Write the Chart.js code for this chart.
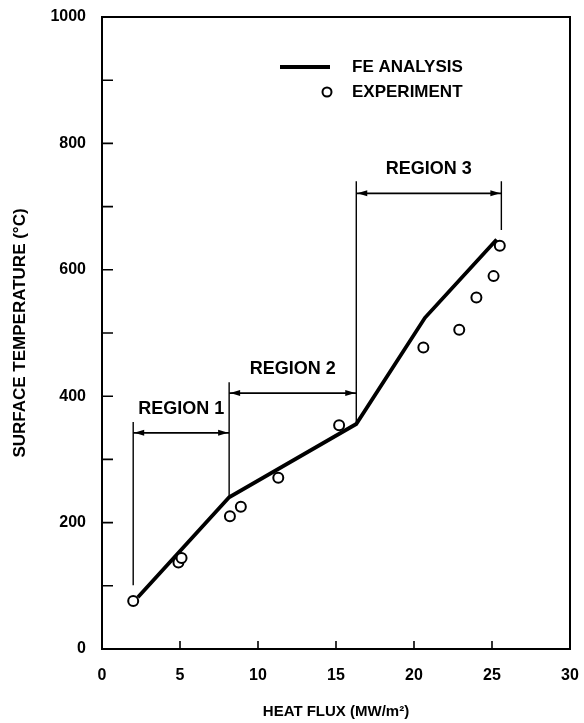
<!DOCTYPE html>
<html>
<head>
<meta charset="utf-8">
<script src="https://cdn.jsdelivr.net/npm/chart.js@4.4.1/dist/chart.umd.min.js"></script>
<style>
  html, body { margin: 0; padding: 0; background: #fff; }
  canvas { display: block; }
</style>
</head>
<body>
<canvas id="fluxchart" width="584" height="723"></canvas>
<script>
// FE analysis curve (heat flux MW/m2 -> surface temperature C)
const feFlux = [2.3, 8.15, 16.3, 20.7, 25.3];
const feTemp = [82, 240, 356, 524, 648];

// experiment points
const expFlux = [2.0, 4.9, 5.1, 8.2, 8.9, 11.3, 15.2, 20.6, 22.9, 24.0, 25.1, 25.5];
const expTemp = [76, 137, 144, 210, 225, 271, 354, 477, 505, 556, 590, 638];

// region annotations
const regionLabels = ['REGION 1', 'REGION 2', 'REGION 3'];
const regionFrom = [2.0, 8.15, 16.3];
const regionTo = [8.15, 16.3, 25.6];
const regionArrowTemp = [342, 405, 721];

// vertical boundary lines of the regions
const boundFlux = [2.0, 8.15, 16.3, 25.6];
const boundTop = [359, 422, 740, 740];
const boundBottom = [101, 240, 356, 663];

const fontFam = '"Liberation Sans", Arial, sans-serif';

function arrowHead(ctx, tipX, y, dir) {
    ctx.beginPath();
    ctx.moveTo(tipX, y);
    ctx.lineTo(tipX - dir * 10, y - 3);
    ctx.lineTo(tipX - dir * 10, y + 3);
    ctx.closePath();
    ctx.fill();
}

const overlay = {
    id: 'overlay',
    afterDraw(chart) {
        const ctx = chart.ctx;
        const a = chart.chartArea;
        const x = chart.scales.x;
        const y = chart.scales.y;
        ctx.save();
        ctx.strokeStyle = '#000';
        ctx.fillStyle = '#000';

        // frame
        ctx.lineWidth = 2;
        ctx.strokeRect(a.left, a.top, a.right - a.left, a.bottom - a.top);

        // inward tick marks
        ctx.lineWidth = 1.6;
        ctx.beginPath();
        x.ticks.forEach(t => {
            if (t.value > x.min && t.value < x.max) {
                const px = x.getPixelForValue(t.value);
                ctx.moveTo(px, a.bottom);
                ctx.lineTo(px, a.bottom - 8);
            }
        });
        y.ticks.forEach(t => {
            if (t.value > y.min && t.value < y.max) {
                const py = y.getPixelForValue(t.value);
                ctx.moveTo(a.left, py);
                ctx.lineTo(a.left + 11, py);
            }
        });
        ctx.stroke();

        // region boundaries
        ctx.lineWidth = 1.4;
        ctx.beginPath();
        boundFlux.forEach((f, i) => {
            const px = x.getPixelForValue(f);
            ctx.moveTo(px, y.getPixelForValue(boundTop[i]));
            ctx.lineTo(px, y.getPixelForValue(boundBottom[i]));
        });
        ctx.stroke();

        // region arrows + labels
        ctx.font = 'bold 18px ' + fontFam;
        ctx.textAlign = 'center';
        ctx.textBaseline = 'middle';
        regionLabels.forEach((lbl, i) => {
            const x1 = x.getPixelForValue(regionFrom[i]);
            const x2 = x.getPixelForValue(regionTo[i]);
            const py = y.getPixelForValue(regionArrowTemp[i]);
            ctx.lineWidth = 1.8;
            ctx.beginPath();
            ctx.moveTo(x1, py);
            ctx.lineTo(x2, py);
            ctx.stroke();
            arrowHead(ctx, x1 + 1, py, -1);
            arrowHead(ctx, x2 - 1, py, 1);
            ctx.fillText(lbl, (x1 + x2) / 2, py - 24);
        });

        // legend
        const ds = chart.data.datasets;
        ctx.font = 'bold 17px ' + fontFam;
        ctx.textAlign = 'left';
        ctx.lineWidth = 3.8;
        ctx.beginPath();
        ctx.moveTo(280, 67);
        ctx.lineTo(330, 67);
        ctx.stroke();
        ctx.fillText(ds[1].label, 352, 67);
        ctx.lineWidth = 2;
        ctx.beginPath();
        ctx.arc(327, 92, 4.5, 0, Math.PI * 2);
        ctx.stroke();
        ctx.fillText(ds[0].label, 352, 92);

        ctx.restore();
    }
};

const ctx = document.getElementById('fluxchart').getContext('2d');

new Chart(ctx, {
    type: 'scatter',
    data: {
        datasets: [
            {
                label: 'EXPERIMENT',
                data: expFlux.map((f, i) => ({ x: f, y: expTemp[i] })),
                pointRadius: 5,
                pointBorderWidth: 2,
                pointBorderColor: '#000',
                pointBackgroundColor: '#fff',
                order: 1
            },
            {
                label: 'FE ANALYSIS',
                type: 'line',
                data: feFlux.map((f, i) => ({ x: f, y: feTemp[i] })),
                borderColor: '#000',
                borderWidth: 3.8,
                pointRadius: 0,
                fill: false,
                tension: 0,
                order: 2
            }
        ]
    },
    options: {
        responsive: false,
        animation: false,
        layout: { padding: { top: 17, right: 14, left: 0, bottom: 0 } },
        plugins: {
            legend: { display: false },
            tooltip: { enabled: false }
        },
        scales: {
            x: {
                type: 'linear',
                min: 0,
                max: 30,
                ticks: {
                    stepSize: 5,
                    color: '#000',
                    padding: 17,
                    font: { family: fontFam, size: 16, weight: 'bold' }
                },
                grid: { display: true, drawOnChartArea: false, drawTicks: false },
                border: { display: false },
                title: {
                    display: true,
                    text: 'HEAT FLUX (MW/m²)',
                    color: '#000',
                    padding: { top: 0, bottom: 2 },
                    font: { family: fontFam, size: 15, weight: 'bold' }
                },
                afterFit(scale) {
                    scale.height = 74;
                    scale.paddingLeft = 0;
                    scale.paddingRight = 0;
                }
            },
            y: {
                min: 0,
                max: 1000,
                ticks: {
                    stepSize: 100,
                    autoSkip: false,
                    color: '#000',
                    padding: 16,
                    font: { family: fontFam, size: 16, weight: 'bold' },
                    callback: v => (v % 200 === 0 ? v : '')
                },
                grid: { display: true, drawOnChartArea: false, drawTicks: false },
                border: { display: false },
                title: {
                    display: true,
                    text: 'SURFACE TEMPERATURE (°C)',
                    color: '#000',
                    padding: { top: 10, bottom: 0 },
                    font: { family: fontFam, size: 17, weight: 'bold' }
                },
                afterFit(scale) {
                    scale.width = 102;
                    scale.paddingTop = 0;
                    scale.paddingBottom = 0;
                }
            }
        }
    },
    plugins: [overlay]
});
</script>
</body>
</html>
